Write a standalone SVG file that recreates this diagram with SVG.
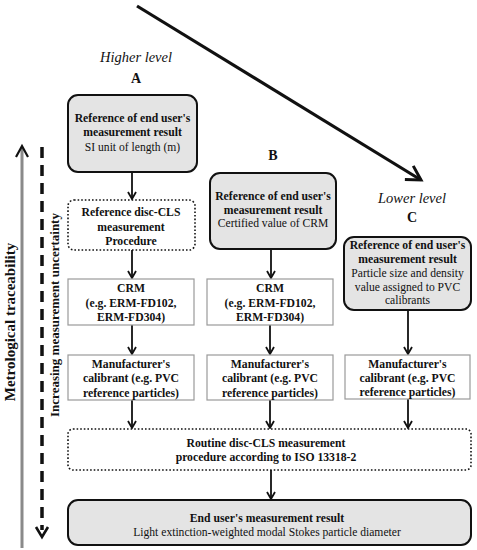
<svg xmlns="http://www.w3.org/2000/svg" width="477" height="550" viewBox="0 0 477 550">
<defs>
<style>
text{font-family:"Liberation Serif","Times New Roman",serif;fill:#111;text-anchor:middle}
.b{font-weight:bold;font-size:11.7px}
.r{font-size:11.6px}
.lvl{font-style:italic;font-size:14.5px}
.let{font-weight:bold;font-size:14px}
.grey{fill:#e4e4e4;stroke:#111;stroke-width:2}
.box{fill:#fff;stroke:#9a9a9a;stroke-width:1.2}
.dot{fill:#fff;stroke:#111;stroke-width:1.6;stroke-dasharray:1.6 2}
.conn{stroke:#111;stroke-width:1.8;fill:none;marker-end:url(#ah)}
</style>
<marker id="ah" viewBox="0 0 10 10" refX="8" refY="5" markerUnits="userSpaceOnUse" markerWidth="10" markerHeight="10" orient="auto">
<path d="M1,1 L8,5 L1,9" fill="none" stroke="#111" stroke-width="1.8"/>
</marker>
<marker id="big" viewBox="0 0 20 20" refX="17" refY="10" markerUnits="userSpaceOnUse" markerWidth="20" markerHeight="20" orient="auto">
<path d="M3,2 L17,10 L3,18" fill="none" stroke="#111" stroke-width="3"/>
</marker>
</defs>

<g id="connectors">
<line x1="137" y1="6" x2="421" y2="180" stroke="#111" stroke-width="3.2" marker-end="url(#big)"/>
<line class="conn" x1="132" y1="172" x2="132" y2="199"/>
<line class="conn" x1="132" y1="250" x2="132" y2="278"/>
<line class="conn" x1="132" y1="325" x2="132" y2="354"/>
<line class="conn" x1="132" y1="400" x2="132" y2="428"/>
<line class="conn" x1="271" y1="249" x2="271" y2="278"/>
<line class="conn" x1="270" y1="325" x2="270" y2="354"/>
<line class="conn" x1="270" y1="400" x2="270" y2="428"/>
<line class="conn" x1="408" y1="310" x2="408" y2="354"/>
<line class="conn" x1="408" y1="399" x2="408" y2="428"/>
<line class="conn" x1="271" y1="470" x2="271" y2="499"/>
</g>

<g id="axis-traceability">
<line x1="22" y1="148" x2="22" y2="548" stroke="#8a8a8a" stroke-width="3"/>
<polyline points="16,157 22,146 28,157" fill="none" stroke="#111" stroke-width="2.2"/>
<text class="b" style="font-size:15px" transform="translate(15,322) rotate(-90)">Metrological traceability</text>
</g>

<g id="axis-uncertainty">
<line x1="42" y1="147" x2="42" y2="530" stroke="#111" stroke-width="3.5" stroke-dasharray="11 7"/>
<polyline points="36,527 42,537 48,527" fill="none" stroke="#111" stroke-width="2.6"/>
<text class="b" style="font-size:13px" transform="translate(59,315) rotate(-90)">Increasing measurement uncertainty</text>
</g>

<g id="labels">
<text class="lvl" x="136" y="62">Higher level</text>
<text class="let" x="136" y="83">A</text>
<text class="let" x="273" y="160">B</text>
<text class="lvl" x="412" y="203">Lower level</text>
<text class="let" x="412" y="222">C</text>
</g>

<g id="nodeA">
<rect class="grey" x="68" y="95" width="129" height="77" rx="10"/>
<text class="b" x="132.5" y="122">Reference of end user's</text>
<text class="b" x="132.5" y="136">measurement result</text>
<text class="r" x="132.5" y="151">SI unit of length (m)</text>
</g>

<g id="nodeA2">
<rect class="dot" x="68" y="200" width="127" height="50" rx="6"/>
<text class="b" x="131" y="216">Reference disc-CLS</text>
<text class="b" x="131" y="231">measurement</text>
<text class="b" x="131" y="245">Procedure</text>
</g>

<g id="nodeA3">
<rect class="box" x="68" y="279" width="126" height="46"/>
<text class="b" x="131" y="292">CRM</text>
<text class="b" x="131" y="307">(e.g. ERM-FD102,</text>
<text class="b" x="131" y="321">ERM-FD304)</text>
</g>

<g id="nodeA4">
<rect class="box" x="68" y="355" width="126" height="45"/>
<text class="b" x="131" y="368">Manufacturer's</text>
<text class="b" x="131" y="382">calibrant (e.g. PVC</text>
<text class="b" x="131" y="397">reference particles)</text>
</g>

<g id="nodeB">
<rect class="grey" x="210" y="173" width="126" height="76" rx="10"/>
<text class="b" x="273" y="200">Reference of end user's</text>
<text class="b" x="273" y="214">measurement result</text>
<text class="r" x="273" y="227">Certified value of CRM</text>
</g>

<g id="nodeB3">
<rect class="box" x="207" y="279" width="126" height="46"/>
<text class="b" x="270" y="292">CRM</text>
<text class="b" x="270" y="307">(e.g. ERM-FD102,</text>
<text class="b" x="270" y="321">ERM-FD304)</text>
</g>

<g id="nodeB4">
<rect class="box" x="207" y="355" width="126" height="45"/>
<text class="b" x="270" y="368">Manufacturer's</text>
<text class="b" x="270" y="382">calibrant (e.g. PVC</text>
<text class="b" x="270" y="397">reference particles)</text>
</g>

<g id="nodeC">
<rect class="grey" x="344" y="237" width="127" height="73" rx="10"/>
<text class="b" x="407.5" y="249">Reference of end user's</text>
<text class="b" x="407.5" y="263">measurement result</text>
<text class="r" x="407.5" y="277">Particle size and density</text>
<text class="r" x="407.5" y="291">value assigned to PVC</text>
<text class="r" x="407.5" y="304">calibrants</text>
</g>

<g id="nodeC4">
<rect class="box" x="345" y="355" width="125" height="44"/>
<text class="b" x="407.5" y="368">Manufacturer's</text>
<text class="b" x="407.5" y="382">calibrant (e.g. PVC</text>
<text class="b" x="407.5" y="396">reference particles)</text>
</g>

<g id="nodeRoutine">
<rect class="dot" x="68" y="429" width="403" height="41" rx="5"/>
<text class="b" x="266" y="447">Routine disc-CLS measurement</text>
<text class="b" x="266" y="461">procedure according to ISO 13318-2</text>
</g>

<g id="nodeEnd">
<rect class="grey" x="68" y="500" width="403" height="45" rx="10"/>
<text class="b" x="267" y="522">End user's measurement result</text>
<text class="r" x="267" y="536">Light extinction-weighted modal Stokes particle diameter</text>
</g>
</svg>
